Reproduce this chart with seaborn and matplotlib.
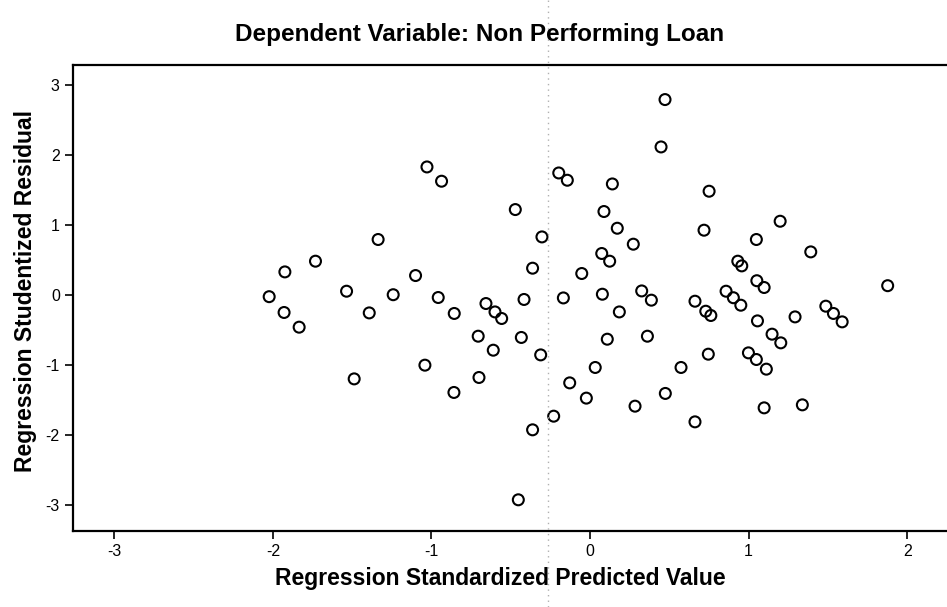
import matplotlib
matplotlib.use("Agg")
import matplotlib.pyplot as plt
import seaborn as sns
import pandas as pd
from matplotlib.lines import Line2D

# Regression Standardized Predicted Value (x) / Regression Studentized Residual (y)
predicted = [
    -1.336, -1.731, -1.924, -1.535, -2.023, -1.241, -1.929, -1.834, -1.392, -1.487, -1.100,
    0.473, 0.448, -1.028, -0.936, -0.197, -0.143, 0.141, -0.471, 0.088, 0.172, -0.303,
    0.273, 0.074, 0.124, -0.362, -0.052,
    -0.957, -0.856, -0.656, -0.599, -0.557, -0.416, -0.705, -0.610, -0.433, -0.311,
    -1.041, -0.700, -0.858, -0.168, 0.078, 0.326, 0.387, 0.662, 0.185, 0.109, 0.362,
    0.033, 0.574, -0.128, -0.023, 0.475, 0.284, 0.662, -0.229, -0.362, -0.452,
    0.751, 0.719, 1.199, 1.049, 1.392, 0.932, 0.957, 1.052, 1.098, 1.877, 0.858,
    0.904, 0.951, 0.730, 0.762, 1.056, 1.293, 1.487, 1.535, 1.590, 1.148, 1.203,
    0.746, 0.999, 1.049, 1.112, 1.098, 1.339,
]
residual = [
    0.796, 0.486, 0.333, 0.057, -0.021, 0.007, -0.247, -0.457, -0.253, -1.196, 0.281,
    2.796, 2.119, 1.833, 1.629, 1.747, 1.643, 1.590, 1.224, 1.196, 0.957, 0.833,
    0.729, 0.596, 0.486, 0.386, 0.310,
    -0.033, -0.261, -0.119, -0.239, -0.333, -0.061, -0.586, -0.786, -0.604, -0.853,
    -1.000, -1.176, -1.390, -0.039, 0.014, 0.061, -0.071, -0.086, -0.239, -0.629, -0.586,
    -1.033, -1.033, -1.253, -1.471, -1.404, -1.586, -1.810, -1.729, -1.924, -2.924,
    1.486, 0.929, 1.057, 0.796, 0.619, 0.486, 0.419, 0.207, 0.110, 0.136, 0.057,
    -0.036, -0.143, -0.229, -0.290, -0.367, -0.310, -0.157, -0.261, -0.381, -0.557, -0.681,
    -0.843, -0.824, -0.919, -1.057, -1.610, -1.567,
]
x_ticks = [-3, -2, -1, 0, 1, 2]
y_ticks = [-3, -2, -1, 0, 1, 2, 3]

title = "Dependent Variable: Non Performing Loan"
x_label = "Regression Standardized Predicted Value"
y_label = "Regression Studentized Residual"

df = pd.DataFrame({"pred": predicted, "resid": residual})

sns.set_theme(style="ticks")
fam = ["Liberation Sans", "DejaVu Sans"]
plt.rcParams["font.family"] = fam
plt.rcParams["text.color"] = "black"

W, H = 947, 607
fig = plt.figure(figsize=(W / 100, H / 100), dpi=100)
left, right, top, bottom = 73, 950, 65, 531
ax = fig.add_axes([left / W, 1 - bottom / H, (right - left) / W, (bottom - top) / H])

sns.scatterplot(data=df, x="pred", y="resid", ax=ax, marker="o", s=62,
                facecolor="none", edgecolor="black", linewidth=1.5, legend=False)

ax.set_xlim(-3.26, 2.27)
ax.set_ylim(-3.37, 3.29)
ax.set_xticks(x_ticks)
ax.set_yticks(y_ticks)
ax.set_xticklabels([str(t) for t in x_ticks])
ax.set_yticklabels([str(t) for t in y_ticks])
for s in ax.spines.values():
    s.set_color("black")
    s.set_linewidth(1.6)
ax.tick_params(axis="both", direction="out", length=6, width=1.2, colors="black",
               labelcolor="black", labelsize=11.5)
ax.set_xlabel("")
ax.set_ylabel("")

fig.text(480 / W, 1 - 34 / H, title, ha="center", va="center", fontsize=17.5,
         fontweight="bold", family=fam, color="black")
fig.text(500 / W, 1 - 578 / H, x_label, ha="center", va="center", fontsize=16.5,
         fontweight="bold", family=fam, color="black")
fig.text(26 / W, 1 - 291 / H, y_label, ha="center", va="center", rotation=90,
         fontsize=16.5, fontweight="bold", family=fam, color="black")

# faint dotted crease line visible through the scanned page
fig.add_artist(Line2D([548 / W, 548 / W], [0, 1], transform=fig.transFigure,
                      color="#b0b0b0", linestyle=(0, (1, 3)), linewidth=1.0))

fig.savefig("out.png", dpi=100)
